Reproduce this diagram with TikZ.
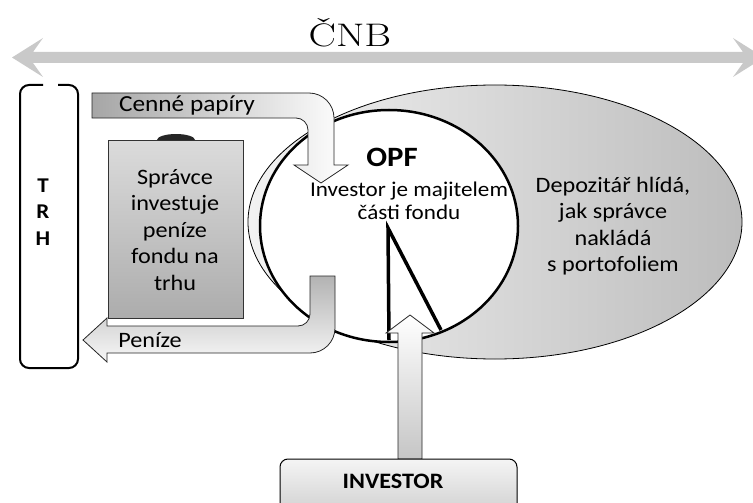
\documentclass[tikz,border=0pt]{standalone}
\usepackage{fontspec}
\newfontfamily\calfont[FakeStretch=1.1]{Carlito}
\begin{document}
\begin{tikzpicture}[x=1pt,y=1pt,
  txt/.style={font=\calfont\fontsize{22}{26.5}\selectfont, align=center, inner sep=0pt},
  boldtxt/.style={font=\calfont\bfseries\fontsize{#1}{#1}\selectfont, inner sep=0pt},
  flow/.style={draw=black!85, line width=0.8pt},
]
\useasboundingbox (0,0) rectangle (753,-503);
\clip (0,0) rectangle (753,-503);
\fill[white] (0,0) rectangle (753,-503);

% CNB double arrow
\fill[gray!42] (12,-57.5) -- (43,-38) -- (33,-52) -- (743,-52) -- (733,-38) -- (764,-57.5)
  -- (733,-77) -- (743,-63) -- (33,-63) -- (43,-77) -- cycle;
\node[font=\fontsize{32}{32}\selectfont, anchor=base, inner sep=0pt] (cnb) at (350,-47) {\scalebox{1.28}[1.02]{ČNB}};

% Depozitar ellipse
\draw[line width=0.8pt, left color=gray!10, right color=gray!52] (495,-222) ellipse [x radius=247, y radius=137];
% OPF ellipse
\draw[line width=2.5pt, fill=white] (389,-226) ellipse [x radius=129, y radius=116];

\node[boldtxt=28, anchor=base] (opf) at (392,-166) {OPF};
\node[txt, font=\calfont\fontsize{21}{23.5}\selectfont] (own) at (409,-201) {Investor je majitelem\\části fondu};
\node[txt] (dep) at (613,-226) {Depozitář hlídá,\\jak správce\\nakládá\\s portofoliem};

% black pointer
\draw[line width=3.5pt, line join=miter] (389,-340) -- (388,-228) -- (441,-330);

% Cenne papiry arrow
\draw[flow, left color=gray!70, right color=white]
  (92,-93) -- (309,-93) arc[start angle=90, end angle=0, radius=25]
  -- (334,-165) -- (348,-165) -- (321,-183) -- (294,-165) -- (308,-165)
  -- (308,-130) arc[start angle=0, end angle=90, radius=12] -- (92,-118) -- cycle;
\node[txt, font=\calfont\fontsize{23}{23}\selectfont, anchor=base] (cp) at (187,-112) {Cenné papíry};

% Penize arrow
\draw[flow, top color=gray!60, bottom color=gray!6]
  (310,-276) -- (310,-314) arc[start angle=0, end angle=-90, radius=12]
  -- (107,-326) -- (107,-318) -- (83,-340) -- (107,-362) -- (107,-353)
  -- (310,-353) arc[start angle=270, end angle=360, radius=25] -- (335,-276) -- cycle;
\node[txt, font=\calfont\fontsize{22}{22}\selectfont, anchor=base] (pen) at (150,-347) {Peníze};

% Spravce box
\fill[gray!30!black] (157,-140) arc[start angle=180, end angle=0, x radius=19, y radius=6];
\draw[draw=gray!40!black, line width=0.7pt, top color=gray!28, bottom color=gray!65] (108,-140) rectangle (243,-318);
\node[txt] (spr) at (175,-230) {Správce\\investuje\\peníze\\fondu na\\trhu};

% TRH
\draw[line width=2pt] (58,-85) -- (69,-85) arc[start angle=90, end angle=0, radius=9]
  -- (78,-359) arc[start angle=0, end angle=-90, radius=9]
  -- (29,-368) arc[start angle=270, end angle=180, radius=9]
  -- (20,-94) arc[start angle=180, end angle=90, radius=9] -- (43,-85);
\node[txt, font=\calfont\bfseries\fontsize{21}{26.5}\selectfont] (trh) at (43,-212) {T\\R\\H};

% Investor arrow and box
\draw[flow, top color=white, bottom color=gray!45]
  (398,-459) -- (398,-333) -- (386,-333) -- (410,-315) -- (434,-333) -- (422,-333) -- (422,-459) -- cycle;
\draw[line width=1pt, rounded corners=8pt, top color=gray!8, bottom color=gray!40] (280,-459) rectangle (517,-520);
\node[boldtxt=22] (investor) at (393,-481) {INVESTOR};
\end{tikzpicture}
\end{document}
